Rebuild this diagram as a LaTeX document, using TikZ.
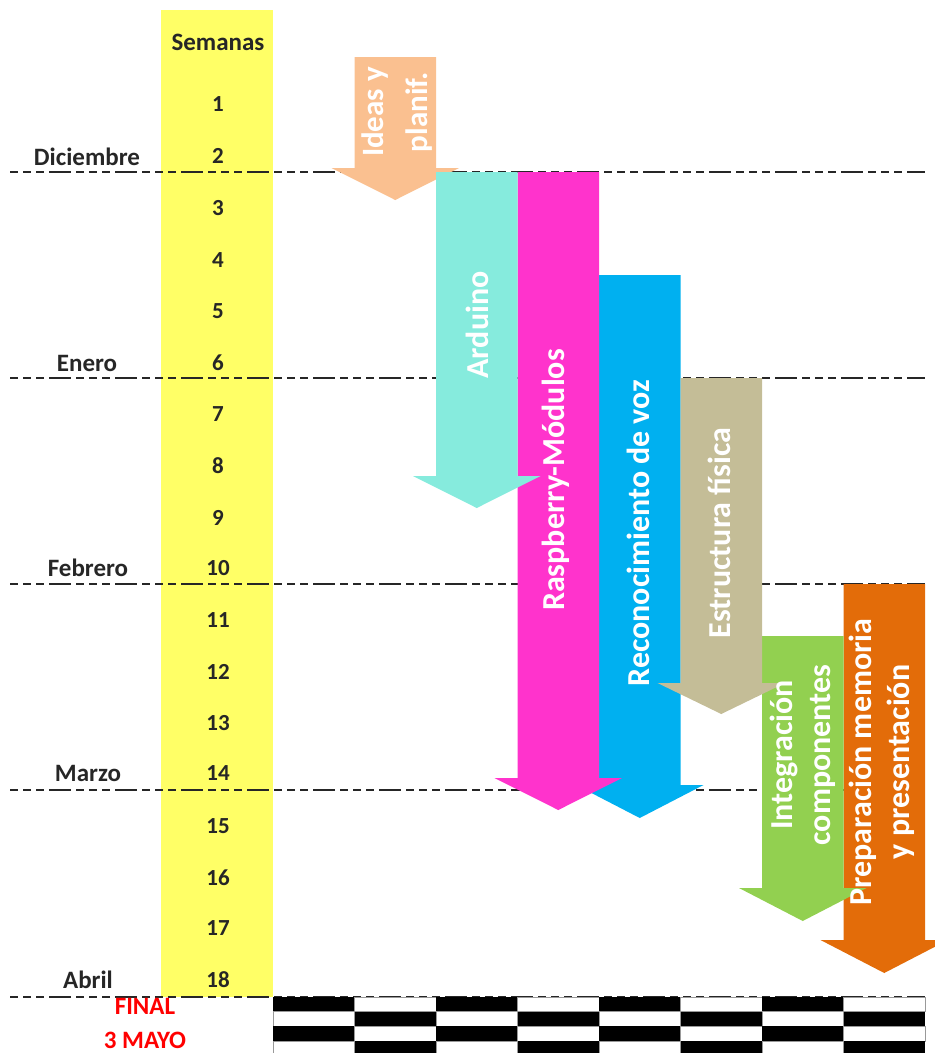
\documentclass[tikz,border=0pt]{standalone}
\usepackage{fontspec}
\setmainfont{Carlito}
\definecolor{ysem}{HTML}{FFFF66}
\definecolor{cpeach}{HTML}{FAC090}
\definecolor{cteal}{HTML}{86EBDD}
\definecolor{cmag}{HTML}{FF33CC}
\definecolor{ccyan}{HTML}{00B0F0}
\definecolor{ctan}{HTML}{C4BD97}
\definecolor{cgreen}{HTML}{92D050}
\definecolor{corange}{HTML}{E36C09}
\definecolor{cred}{HTML}{FF0000}
% #1 colour, #2 left, #3 right, #4 top, #5 head start, #6 tip
\newcommand{\dnarrow}[6]{%
  \fill[#1] (#2,#4) -- (#3,#4) -- (#3,#5) -- ({#3+23},#5) -- ({(#2+#3)/2},#6)
    -- ({#2-23},#5) -- (#2,#5) -- cycle;}
\tikzset{
  wk/.style={font=\fontsize{23}{26}\selectfont\bfseries, text=black!85},
  hd/.style={font=\fontsize{25}{28}\selectfont\bfseries, text=black!85},
  mon/.style={font=\fontsize{25}{28}\selectfont\bfseries, text=black!85},
  fin/.style={font=\fontsize{25}{28}\selectfont\bfseries, text=cred},
  atext/.style={font=\fontsize{32}{38}\selectfont\bfseries, text=white, rotate=90, align=center, inner sep=0pt},
  sepline/.style={line width=1.3pt, black!85, dash pattern=on 8pt off 5pt on 8pt off 5pt on 8pt off 5pt on 22pt off 5pt},
}
\begin{document}
\begin{tikzpicture}[x=1pt,y=-1pt]
\useasboundingbox (0,0) rectangle (935,1053);
\begin{scope}
\clip (0,0) rectangle (935,1053);
% yellow week column
\fill[ysem] (161,10) rectangle (273,997);
\node[hd] (sem) at (218,42) {Semanas};
\foreach \n/\yy in {1/104,2/156,3/208,4/260,5/311,6/363,7/414,8/466,9/518,10/568,11/620,12/672,13/723,14/773,15/826,16/878,17/928,18/980}{
  \node[wk] (w\n) at (218,\yy) {\n};
}
\node[mon] (dic) at (87,157) {Diciembre};
\node[mon] (ene) at (87,363) {Enero};
\node[mon] (feb) at (88,568) {Febrero};
\node[mon] (mar) at (88,773) {Marzo};
\node[mon] (abr) at (88,980) {Abril};
% month separators
\foreach \yy in {172,378,584,790,997}{
  \draw[sepline] (10,\yy) -- (925,\yy);
}
% arrows (drawing order follows the overlaps)
\dnarrow{corange}{843.5}{925}{584}{940}{973}
\dnarrow{cgreen}{762}{843.5}{636}{888}{921}
\dnarrow{ccyan}{599}{680.5}{275}{785}{818}
\dnarrow{ctan}{680.5}{762}{378}{683}{714}
\dnarrow{cmag}{517.5}{599}{172}{778}{810}
\dnarrow{cpeach}{354.5}{436}{57}{168}{200}
\dnarrow{cteal}{436}{517.5}{172}{476}{508}
% arrow labels
\node[atext, font=\fontsize{31}{44}\selectfont\bfseries] (tideas) at (397,112) {Ideas y\\planif.};
\node[atext] (tard) at (477,325) {Arduino};
\node[atext] (trasp) at (556,480) {Raspberry-Módulos};
\node[atext] (trec) at (638,533) {Reconocimiento de voz};
\node[atext] (test) at (719,533) {Estructura física};
\node[atext] (tint) at (803,755) {Integración\\componentes};
\node[atext] (tprep) at (882,762) {Preparación memoria\\y presentación};
% checkered finish band
\foreach \c in {0,...,7}{
  \foreach \r in {0,...,3}{
    \pgfmathtruncatemacro{\parity}{mod(\c+\r,2)}
    \ifnum\parity=0
      \fill[black] ({273+81.5*\c},{997+14.7*\r}) rectangle ({273+81.5*(\c+1)},{997+14.7*(\r+1)});
    \else
      \draw[black!40, line width=0.8pt, fill=white] ({273+81.5*\c},{997+14.7*\r}) rectangle ({273+81.5*(\c+1)},{997+14.7*(\r+1)});
    \fi
  }
}
\node[fin] (final) at (145,1006) {FINAL};
\node[fin] (mayo) at (145,1040) {3 MAYO};
\end{scope}
\end{tikzpicture}
\end{document}
